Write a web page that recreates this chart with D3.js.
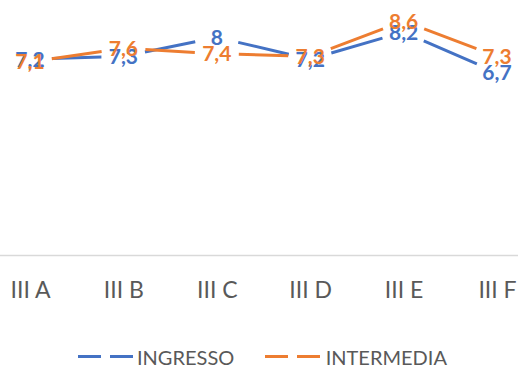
<!DOCTYPE html>
<html>
<head>
<meta charset="utf-8">
<script src="https://cdn.jsdelivr.net/npm/d3@7"></script>
<style>
  html, body { margin: 0; padding: 0; background: #fff; }
  svg { display: block; font-family: Lato, "Open Sans", sans-serif; }
</style>
</head>
<body>
<svg id="chart" width="518" height="366"></svg>
<script>
// Class averages per section
const categories = ["III A", "III B", "III C", "III D", "III E", "III F"];
const ingresso   = [7.2, 7.3, 8, 7.2, 8.2, 6.7];
const intermedia = [7.1, 7.6, 7.4, 7.3, 8.6, 7.3];
const seriesNames  = ["INGRESSO", "INTERMEDIA"];
const seriesColors = ["#4472C4", "#ED7D31"];

const series = [
  { name: seriesNames[0], values: ingresso,   color: seriesColors[0] },
  { name: seriesNames[1], values: intermedia, color: seriesColors[1] }
];

const svg = d3.select("#chart");

// Category axis wider than the viewport, bands centred on each class
const x = d3.scalePoint()
  .domain(categories)
  .range([-16.7, 543.7])
  .padding(0.5);

const y = d3.scaleLinear()
  .domain([0, 9])
  .range([255, 10.2]);

const it = d3.formatLocale({ decimal: ",", thousands: ".", grouping: [3], currency: ["", " €"] });
const fmt = it.format("");

// Category axis
const axis = svg.append("g")
  .attr("transform", `translate(0,${y(0)})`)
  .call(d3.axisBottom(x).tickSize(0).tickSizeOuter(0));
axis.select(".domain")
  .attr("stroke", "#d9d9d9")
  .attr("stroke-width", 1.5);
axis.selectAll(".tick text")
  .attr("dy", null)
  .attr("y", 43)
  .attr("fill", "#595959")
  .style("font-family", "Lato, sans-serif")
  .style("font-size", "23px");

// Lines: each segment shows its middle stretch, leaving a gap around every point
const gap = 22;
series.forEach(s => {
  const pts = s.values.map((v, i) => [x(categories[i]), y(v)]);
  const segs = d3.pairs(pts);
  svg.append("g")
    .selectAll("line")
    .data(segs)
    .join("line")
    .attr("x1", d => d[0][0]).attr("y1", d => d[0][1])
    .attr("x2", d => d[1][0]).attr("y2", d => d[1][1])
    .attr("stroke", s.color)
    .attr("stroke-width", 3)
    .attr("stroke-linecap", "butt")
    .attr("stroke-dasharray", d => {
      const L = Math.hypot(d[1][0] - d[0][0], d[1][1] - d[0][1]);
      return `0,${gap},${Math.max(0, L - 2 * gap)},${gap + 10}`;
    });
});

// Value labels centred on each point
series.forEach(s => {
  svg.append("g")
    .selectAll("text")
    .data(s.values)
    .join("text")
    .attr("x", (v, i) => x(categories[i]))
    .attr("y", v => y(v))
    .attr("dy", "0.36em")
    .attr("text-anchor", "middle")
    .attr("fill", s.color)
    .style("font-weight", "bold")
    .style("font-size", "21px")
    .text(v => fmt(v));
});

// Legend
const legendItems = [
  { x0: 78, x1: 133 },
  { x0: 265, x1: 321.7 }
];
const legend = svg.append("g");
series.forEach((s, i) => {
  const li = legendItems[i];
  legend.append("line")
    .attr("x1", li.x0).attr("x2", li.x1)
    .attr("y1", 356.5).attr("y2", 356.5)
    .attr("stroke", s.color)
    .attr("stroke-width", 3)
    .attr("stroke-dasharray", "23,9");
  legend.append("text")
    .attr("x", li.x1 + 4)
    .attr("y", 364.5)
    .attr("fill", "#595959")
    .style("font-size", "20px")
    .text(s.name);
});
</script>
</body>
</html>
